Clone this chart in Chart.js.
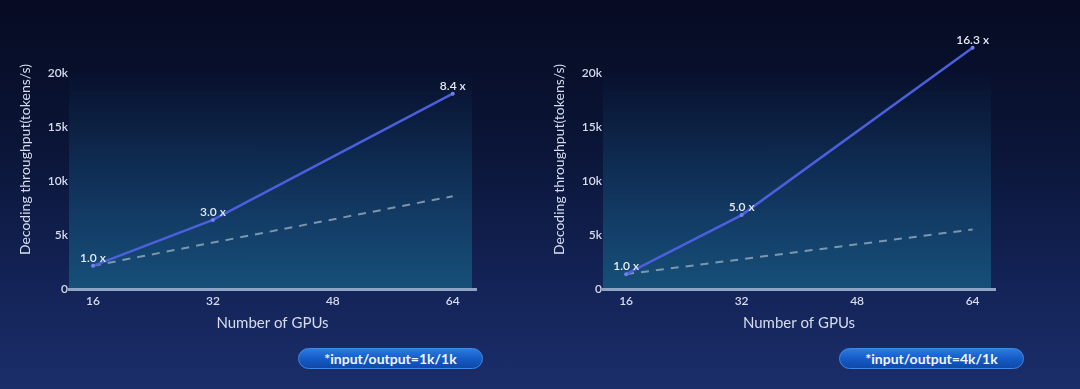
<!DOCTYPE html>
<html>
<head>
<meta charset="utf-8">
<script src="https://cdn.jsdelivr.net/npm/chart.js@4"></script>
<style>
  html, body { margin: 0; padding: 0; }
  body {
    width: 1080px; height: 389px; overflow: hidden; position: relative;
    background: linear-gradient(180deg, #060b22 0%, #0a1435 35%, #142459 75%, #1b2e6a 100%);
    font-family: Lato, "Open Sans", sans-serif;
  }
  .box { position: absolute; top: 0; width: 500px; height: 340px; }
  .pill {
    position: absolute; top: 348px; height: 21px; width: 185px;
    border-radius: 11px; box-sizing: border-box;
    background: linear-gradient(180deg, #2a7ae0 0%, #1459c4 55%, #0f4aa8 100%);
    border: 1px solid #3f8ae8;
    color: #f2f6ff; font: bold 14px Lato, sans-serif; line-height: 19px; text-align: center;
  }
</style>
</head>
<body>
<div class="box" style="left:0px"><canvas id="left"></canvas></div>
<div class="box" style="left:534px"><canvas id="right"></canvas></div>
<div class="pill" style="left:298px">*input/output=1k/1k</div>
<div class="pill" style="left:839px">*input/output=4k/1k</div>

<script>
// data
const gpus = [16, 32, 64];
const linearGpus = [16, 32, 48, 64];
const yTicks = [0, 5000, 10000, 15000, 20000];

const leftActual = [2150, 6400, 18100];
const leftLinear = [2150, 4300, 6450, 8600];
const leftSpeedup = ['1.0 x', '3.0 x', '8.4 x'];

const rightActual = [1370, 6850, 22350];
const rightLinear = [1380, 2760, 4140, 5520];
const rightSpeedup = ['1.0 x', '5.0 x', '16.3 x'];

const txt = '#d6dced';

// teal panel behind the plot
const panelBg = {
  id: 'panelBg',
  beforeDraw(chart) {
    const { ctx, chartArea: a } = chart;
    const top = a.top + 40;
    const g = ctx.createLinearGradient(0, top, 0, a.bottom);
    g.addColorStop(0, 'rgba(20,70,110,0)');
    g.addColorStop(0.45, 'rgba(20,72,112,0.45)');
    g.addColorStop(1, 'rgba(22,82,122,0.95)');
    ctx.save();
    ctx.fillStyle = g;
    ctx.fillRect(a.left, top, a.right - a.left - 4, a.bottom - top);
    ctx.restore();
  }
};

// "n.n x" labels above the solid line points
const speedLabels = {
  id: 'speedLabels',
  afterDatasetsDraw(chart, args, opts) {
    const { ctx } = chart;
    const meta = chart.getDatasetMeta(0);
    ctx.save();
    ctx.font = '600 12px Lato, sans-serif';
    ctx.fillStyle = '#e6ebf5';
    ctx.textAlign = 'center';
    ctx.textBaseline = 'bottom';
    meta.data.forEach((pt, i) => {
      ctx.fillText(opts.labels[i], pt.x, pt.y - 2);
    });
    ctx.restore();
  }
};

function makeChart(id, actual, linear, speedup, padRight) {
  new Chart(document.getElementById(id), {
    type: 'line',
    data: {
      datasets: [{
        data: gpus.map((g, i) => ({ x: g, y: actual[i] })),
        borderColor: '#4c5fdc',
        backgroundColor: '#6f82f2',
        borderWidth: 2.5,
        pointRadius: 2,
        pointBorderWidth: 0,
        tension: 0
      }, {
        data: linearGpus.map((g, i) => ({ x: g, y: linear[i] })),
        borderColor: 'rgba(150,172,190,0.8)',
        borderWidth: 2,
        borderDash: [8, 7],
        pointRadius: 0,
        tension: 0
      }]
    },
    options: {
      responsive: true,
      maintainAspectRatio: false,
      animation: false,
      layout: { padding: { left: 0, right: padRight, top: 30, bottom: 0 } },
      plugins: { legend: { display: false }, tooltip: { enabled: false }, speedLabels: { labels: speedup } },
      scales: {
        x: {
          type: 'linear',
          min: 12.8, max: 67.1,
          afterBuildTicks: s => { s.ticks = linearGpus.map(v => ({ value: v })); },
          afterFit: s => { s.height = 51; },
          grid: { display: false, drawTicks: false },
          border: { display: true, color: '#8fa3c4', width: 3 },
          ticks: { color: txt, font: { family: 'Lato', size: 12, weight: '600' }, padding: 5 },
          title: { display: true, text: 'Number of GPUs', color: txt, font: { family: 'Lato', size: 15 }, padding: { top: 0, bottom: 8 } }
        },
        y: {
          min: 0, max: 24000,
          afterBuildTicks: s => { s.ticks = yTicks.map(v => ({ value: v })); },
          afterFit: s => { s.width = 69; },
          grid: { display: false, drawTicks: false },
          border: { display: false },
          ticks: { color: txt, font: { family: 'Lato', size: 12, weight: '600' }, padding: 1,
                   callback: v => v === 0 ? '0' : (v / 1000) + 'k' },
          title: { display: true, text: 'Decoding throughput(tokens/s)', color: txt, font: { family: 'Lato', size: 14 }, padding: { top: 17, bottom: 0 } }
        }
      }
    },
    plugins: [panelBg, speedLabels]
  });
}

makeChart('left', leftActual, leftLinear, leftSpeedup, 24);
makeChart('right', rightActual, rightLinear, rightSpeedup, 39);
</script>
</body>
</html>
